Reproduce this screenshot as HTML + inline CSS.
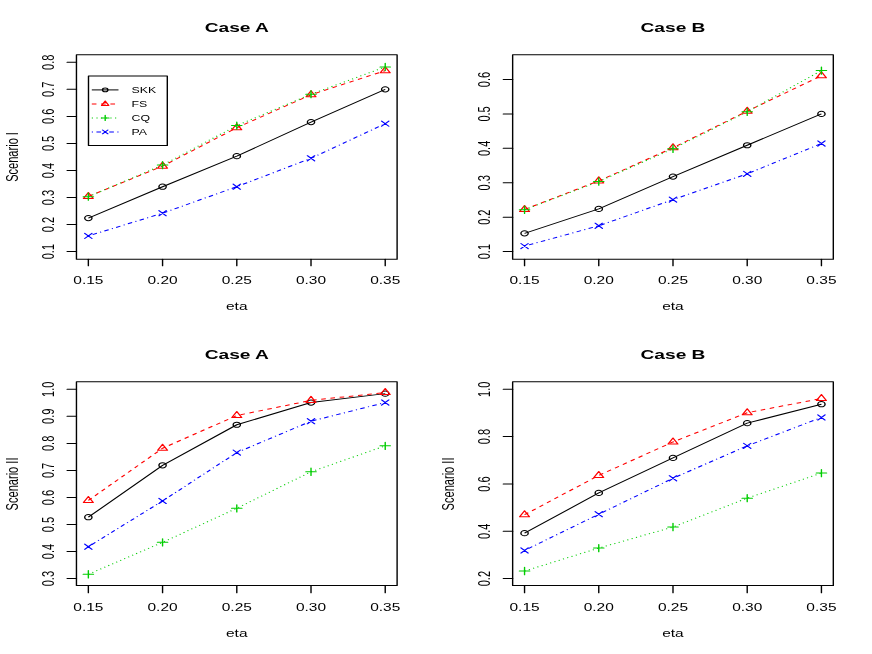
<!DOCTYPE html>
<html><head><meta charset="utf-8"><title>Chart</title>
<style>html,body{margin:0;padding:0;background:#fff;}body{width:872px;height:654px;overflow:hidden;font-family:"Liberation Sans",sans-serif;}svg{display:block;will-change:transform;opacity:0.999;}</style>
</head><body>
<svg width="872" height="654" viewBox="0 0 872 654">
<rect width="872" height="654" fill="#fff"/>
<g transform="scale(1.4,1)" font-family="Liberation Sans, sans-serif" fill="#000" stroke-linecap="round" stroke-linejoin="round">
<path d="M63.11 218.07L116.12 186.70L169.14 156.14L222.15 122.06L275.16 89.34" fill="none" stroke="#000000" stroke-width="1.0" stroke-linecap="butt"/>
<circle cx="63.11" cy="218.07" r="2.59" fill="none" stroke="#000000" stroke-width="1.0"/>
<circle cx="116.12" cy="186.70" r="2.59" fill="none" stroke="#000000" stroke-width="1.0"/>
<circle cx="169.14" cy="156.14" r="2.59" fill="none" stroke="#000000" stroke-width="1.0"/>
<circle cx="222.15" cy="122.06" r="2.59" fill="none" stroke="#000000" stroke-width="1.0"/>
<circle cx="275.16" cy="89.34" r="2.59" fill="none" stroke="#000000" stroke-width="1.0"/>
<path d="M63.11 196.43L116.12 166.14L169.14 127.74L222.15 94.75L275.16 70.68" fill="none" stroke="#ff0000" stroke-width="1.0" stroke-dasharray="3.32 3.32" stroke-linecap="butt"/>
<path d="M63.11 192.41L66.59 198.44L59.62 198.44Z" fill="none" stroke="#ff0000" stroke-width="1.0"/>
<path d="M116.12 162.12L119.61 168.16L112.64 168.16Z" fill="none" stroke="#ff0000" stroke-width="1.0"/>
<path d="M169.14 123.72L172.62 129.76L165.65 129.76Z" fill="none" stroke="#ff0000" stroke-width="1.0"/>
<path d="M222.15 90.73L225.63 96.76L218.67 96.76Z" fill="none" stroke="#ff0000" stroke-width="1.0"/>
<path d="M275.16 66.66L278.65 72.70L271.68 72.70Z" fill="none" stroke="#ff0000" stroke-width="1.0"/>
<path d="M63.11 196.70L116.12 165.06L169.14 125.58L222.15 94.21L275.16 66.90" fill="none" stroke="#00cd00" stroke-width="1.0" stroke-dasharray="0.83 2.49" stroke-linecap="butt"/>
<path d="M59.45 196.70H66.77M63.11 193.04V200.36" fill="none" stroke="#00cd00" stroke-width="1.0"/>
<path d="M112.46 165.06H119.78M116.12 161.40V168.72" fill="none" stroke="#00cd00" stroke-width="1.0"/>
<path d="M165.48 125.58H172.79M169.14 121.92V129.24" fill="none" stroke="#00cd00" stroke-width="1.0"/>
<path d="M218.49 94.21H225.81M222.15 90.55V97.87" fill="none" stroke="#00cd00" stroke-width="1.0"/>
<path d="M271.51 66.90H278.82M275.16 63.24V70.56" fill="none" stroke="#00cd00" stroke-width="1.0"/>
<path d="M63.11 235.92L116.12 213.20L169.14 186.70L222.15 158.30L275.16 123.69" fill="none" stroke="#0000ff" stroke-width="1.0" stroke-dasharray="0.83 2.49 3.32 2.49" stroke-linecap="butt"/>
<path d="M60.52 233.33L65.69 238.50M60.52 238.50L65.69 233.33" fill="none" stroke="#0000ff" stroke-width="1.0"/>
<path d="M113.53 210.61L118.71 215.79M113.53 215.79L118.71 210.61" fill="none" stroke="#0000ff" stroke-width="1.0"/>
<path d="M166.55 184.11L171.72 189.28M166.55 189.28L171.72 184.11" fill="none" stroke="#0000ff" stroke-width="1.0"/>
<path d="M219.56 155.71L224.74 160.89M219.56 160.89L224.74 155.71" fill="none" stroke="#0000ff" stroke-width="1.0"/>
<path d="M272.58 121.10L277.75 126.27M272.58 126.27L277.75 121.10" fill="none" stroke="#0000ff" stroke-width="1.0"/>
<rect x="54.61" y="54.70" width="229.04" height="204.50" fill="none" stroke="#000" stroke-width="1.0"/>
<path d="M63.11 259.20V265.84" stroke="#000" stroke-width="1.0"/>
<text x="63.11" y="283.60" font-size="11.07" text-anchor="middle">0.15</text>
<path d="M116.12 259.20V265.84" stroke="#000" stroke-width="1.0"/>
<text x="116.12" y="283.60" font-size="11.07" text-anchor="middle">0.20</text>
<path d="M169.14 259.20V265.84" stroke="#000" stroke-width="1.0"/>
<text x="169.14" y="283.60" font-size="11.07" text-anchor="middle">0.25</text>
<path d="M222.15 259.20V265.84" stroke="#000" stroke-width="1.0"/>
<text x="222.15" y="283.60" font-size="11.07" text-anchor="middle">0.30</text>
<path d="M275.16 259.20V265.84" stroke="#000" stroke-width="1.0"/>
<text x="275.16" y="283.60" font-size="11.07" text-anchor="middle">0.35</text>
<path d="M54.61 251.60H47.97" stroke="#000" stroke-width="1.0"/>
<text transform="translate(38.68 251.60) rotate(-90) scale(1,1.04)" font-size="11.07" text-anchor="middle">0.1</text>
<path d="M54.61 224.56H47.97" stroke="#000" stroke-width="1.0"/>
<text transform="translate(38.68 224.56) rotate(-90) scale(1,1.04)" font-size="11.07" text-anchor="middle">0.2</text>
<path d="M54.61 197.51H47.97" stroke="#000" stroke-width="1.0"/>
<text transform="translate(38.68 197.51) rotate(-90) scale(1,1.04)" font-size="11.07" text-anchor="middle">0.3</text>
<path d="M54.61 170.47H47.97" stroke="#000" stroke-width="1.0"/>
<text transform="translate(38.68 170.47) rotate(-90) scale(1,1.04)" font-size="11.07" text-anchor="middle">0.4</text>
<path d="M54.61 143.43H47.97" stroke="#000" stroke-width="1.0"/>
<text transform="translate(38.68 143.43) rotate(-90) scale(1,1.04)" font-size="11.07" text-anchor="middle">0.5</text>
<path d="M54.61 116.39H47.97" stroke="#000" stroke-width="1.0"/>
<text transform="translate(38.68 116.39) rotate(-90) scale(1,1.04)" font-size="11.07" text-anchor="middle">0.6</text>
<path d="M54.61 89.34H47.97" stroke="#000" stroke-width="1.0"/>
<text transform="translate(38.68 89.34) rotate(-90) scale(1,1.04)" font-size="11.07" text-anchor="middle">0.7</text>
<path d="M54.61 62.30H47.97" stroke="#000" stroke-width="1.0"/>
<text transform="translate(38.68 62.30) rotate(-90) scale(1,1.04)" font-size="11.07" text-anchor="middle">0.8</text>
<text x="169.13" y="32.45" font-size="13.7" font-weight="bold" text-anchor="middle">Case A</text>
<text x="169.13" y="309.60" font-size="11.07" text-anchor="middle">eta</text>
<text transform="translate(12.79 156.95) rotate(-90) scale(1,1.04)" font-size="11.07" text-anchor="middle">Scenario I</text>
<rect x="63.21" y="76.00" width="56.29" height="69.50" fill="#fff" stroke="#000" stroke-width="1.0"/>
<path d="M65.57 89.90H84.64" fill="none" stroke="#000000" stroke-width="1.0" stroke-linecap="butt"/>
<circle cx="75.14" cy="89.90" r="1.91" fill="none" stroke="#000000" stroke-width="1.0"/>
<text x="93.93" y="93.00" font-size="8.8">SKK</text>
<path d="M65.57 103.90H84.64" fill="none" stroke="#ff0000" stroke-width="1.0" stroke-dasharray="3.32 3.32" stroke-linecap="butt"/>
<path d="M75.14 100.92L77.72 105.39L72.56 105.39Z" fill="none" stroke="#ff0000" stroke-width="1.0"/>
<text x="93.93" y="107.00" font-size="8.8">FS</text>
<path d="M65.57 117.90H84.64" fill="none" stroke="#00cd00" stroke-width="1.0" stroke-dasharray="0.83 2.49" stroke-linecap="butt"/>
<path d="M72.44 117.90H77.85M75.14 115.19V120.61" fill="none" stroke="#00cd00" stroke-width="1.0"/>
<text x="93.93" y="121.00" font-size="8.8">CQ</text>
<path d="M65.57 131.90H84.64" fill="none" stroke="#0000ff" stroke-width="1.0" stroke-dasharray="0.83 2.49 3.32 2.49" stroke-linecap="butt"/>
<path d="M73.23 129.99L77.06 133.81M73.23 133.81L77.06 129.99" fill="none" stroke="#0000ff" stroke-width="1.0"/>
<text x="93.93" y="135.00" font-size="8.8">PA</text>
<path d="M374.68 233.36L427.69 208.92L480.71 176.57L533.72 145.25L586.74 113.93" fill="none" stroke="#000000" stroke-width="1.0" stroke-linecap="butt"/>
<circle cx="374.68" cy="233.36" r="2.59" fill="none" stroke="#000000" stroke-width="1.0"/>
<circle cx="427.69" cy="208.92" r="2.59" fill="none" stroke="#000000" stroke-width="1.0"/>
<circle cx="480.71" cy="176.57" r="2.59" fill="none" stroke="#000000" stroke-width="1.0"/>
<circle cx="533.72" cy="145.25" r="2.59" fill="none" stroke="#000000" stroke-width="1.0"/>
<circle cx="586.74" cy="113.93" r="2.59" fill="none" stroke="#000000" stroke-width="1.0"/>
<path d="M374.68 209.44L427.69 180.87L480.71 147.79L533.72 111.17L586.74 75.72" fill="none" stroke="#ff0000" stroke-width="1.0" stroke-dasharray="3.32 3.32" stroke-linecap="butt"/>
<path d="M374.68 205.41L378.16 211.45L371.19 211.45Z" fill="none" stroke="#ff0000" stroke-width="1.0"/>
<path d="M427.69 176.85L431.18 182.88L424.21 182.88Z" fill="none" stroke="#ff0000" stroke-width="1.0"/>
<path d="M480.71 143.77L484.19 149.81L477.22 149.81Z" fill="none" stroke="#ff0000" stroke-width="1.0"/>
<path d="M533.72 107.15L537.21 113.19L530.24 113.19Z" fill="none" stroke="#ff0000" stroke-width="1.0"/>
<path d="M586.74 71.70L590.22 77.74L583.25 77.74Z" fill="none" stroke="#ff0000" stroke-width="1.0"/>
<path d="M374.68 209.75L427.69 181.52L480.71 148.76L533.72 111.79L586.74 70.56" fill="none" stroke="#00cd00" stroke-width="1.0" stroke-dasharray="0.83 2.49" stroke-linecap="butt"/>
<path d="M371.02 209.75H378.34M374.68 206.09V213.41" fill="none" stroke="#00cd00" stroke-width="1.0"/>
<path d="M424.03 181.52H431.35M427.69 177.87V185.18" fill="none" stroke="#00cd00" stroke-width="1.0"/>
<path d="M477.05 148.76H484.37M480.71 145.10V152.42" fill="none" stroke="#00cd00" stroke-width="1.0"/>
<path d="M530.06 111.79H537.38M533.72 108.13V115.45" fill="none" stroke="#00cd00" stroke-width="1.0"/>
<path d="M583.08 70.56H590.39M586.74 66.90V74.22" fill="none" stroke="#00cd00" stroke-width="1.0"/>
<path d="M374.68 246.09L427.69 225.79L480.71 199.63L533.72 173.81L586.74 143.53" fill="none" stroke="#0000ff" stroke-width="1.0" stroke-dasharray="0.83 2.49 3.32 2.49" stroke-linecap="butt"/>
<path d="M372.09 243.51L377.27 248.68M372.09 248.68L377.27 243.51" fill="none" stroke="#0000ff" stroke-width="1.0"/>
<path d="M425.11 223.20L430.28 228.37M425.11 228.37L430.28 223.20" fill="none" stroke="#0000ff" stroke-width="1.0"/>
<path d="M478.12 197.04L483.29 202.22M478.12 202.22L483.29 197.04" fill="none" stroke="#0000ff" stroke-width="1.0"/>
<path d="M531.13 171.23L536.31 176.40M531.13 176.40L536.31 171.23" fill="none" stroke="#0000ff" stroke-width="1.0"/>
<path d="M584.15 140.94L589.32 146.11M584.15 146.11L589.32 140.94" fill="none" stroke="#0000ff" stroke-width="1.0"/>
<rect x="366.18" y="54.70" width="229.04" height="204.50" fill="none" stroke="#000" stroke-width="1.0"/>
<path d="M374.68 259.20V265.84" stroke="#000" stroke-width="1.0"/>
<text x="374.68" y="283.60" font-size="11.07" text-anchor="middle">0.15</text>
<path d="M427.69 259.20V265.84" stroke="#000" stroke-width="1.0"/>
<text x="427.69" y="283.60" font-size="11.07" text-anchor="middle">0.20</text>
<path d="M480.71 259.20V265.84" stroke="#000" stroke-width="1.0"/>
<text x="480.71" y="283.60" font-size="11.07" text-anchor="middle">0.25</text>
<path d="M533.72 259.20V265.84" stroke="#000" stroke-width="1.0"/>
<text x="533.72" y="283.60" font-size="11.07" text-anchor="middle">0.30</text>
<path d="M586.74 259.20V265.84" stroke="#000" stroke-width="1.0"/>
<text x="586.74" y="283.60" font-size="11.07" text-anchor="middle">0.35</text>
<path d="M366.18 251.60H359.54" stroke="#000" stroke-width="1.0"/>
<text transform="translate(350.25 251.60) rotate(-90) scale(1,1.04)" font-size="11.07" text-anchor="middle">0.1</text>
<path d="M366.18 217.18H359.54" stroke="#000" stroke-width="1.0"/>
<text transform="translate(350.25 217.18) rotate(-90) scale(1,1.04)" font-size="11.07" text-anchor="middle">0.2</text>
<path d="M366.18 182.76H359.54" stroke="#000" stroke-width="1.0"/>
<text transform="translate(350.25 182.76) rotate(-90) scale(1,1.04)" font-size="11.07" text-anchor="middle">0.3</text>
<path d="M366.18 148.35H359.54" stroke="#000" stroke-width="1.0"/>
<text transform="translate(350.25 148.35) rotate(-90) scale(1,1.04)" font-size="11.07" text-anchor="middle">0.4</text>
<path d="M366.18 113.93H359.54" stroke="#000" stroke-width="1.0"/>
<text transform="translate(350.25 113.93) rotate(-90) scale(1,1.04)" font-size="11.07" text-anchor="middle">0.5</text>
<path d="M366.18 79.51H359.54" stroke="#000" stroke-width="1.0"/>
<text transform="translate(350.25 79.51) rotate(-90) scale(1,1.04)" font-size="11.07" text-anchor="middle">0.6</text>
<text x="480.70" y="32.45" font-size="13.7" font-weight="bold" text-anchor="middle">Case B</text>
<text x="480.70" y="309.60" font-size="11.07" text-anchor="middle">eta</text>
<path d="M63.11 517.21L116.12 465.29L169.14 424.73L222.15 402.55L275.16 393.63" fill="none" stroke="#000000" stroke-width="1.0" stroke-linecap="butt"/>
<circle cx="63.11" cy="517.21" r="2.59" fill="none" stroke="#000000" stroke-width="1.0"/>
<circle cx="116.12" cy="465.29" r="2.59" fill="none" stroke="#000000" stroke-width="1.0"/>
<circle cx="169.14" cy="424.73" r="2.59" fill="none" stroke="#000000" stroke-width="1.0"/>
<circle cx="222.15" cy="402.55" r="2.59" fill="none" stroke="#000000" stroke-width="1.0"/>
<circle cx="275.16" cy="393.63" r="2.59" fill="none" stroke="#000000" stroke-width="1.0"/>
<path d="M63.11 500.45L116.12 448.25L169.14 415.53L222.15 400.39L275.16 392.55" fill="none" stroke="#ff0000" stroke-width="1.0" stroke-dasharray="3.32 3.32" stroke-linecap="butt"/>
<path d="M63.11 496.42L66.59 502.46L59.62 502.46Z" fill="none" stroke="#ff0000" stroke-width="1.0"/>
<path d="M116.12 444.23L119.61 450.27L112.64 450.27Z" fill="none" stroke="#ff0000" stroke-width="1.0"/>
<path d="M169.14 411.51L172.62 417.54L165.65 417.54Z" fill="none" stroke="#ff0000" stroke-width="1.0"/>
<path d="M222.15 396.36L225.63 402.40L218.67 402.40Z" fill="none" stroke="#ff0000" stroke-width="1.0"/>
<path d="M275.16 388.52L278.65 394.56L271.68 394.56Z" fill="none" stroke="#ff0000" stroke-width="1.0"/>
<path d="M63.11 574.27L116.12 542.36L169.14 508.29L222.15 471.78L275.16 445.82" fill="none" stroke="#00cd00" stroke-width="1.0" stroke-dasharray="0.83 2.49" stroke-linecap="butt"/>
<path d="M59.45 574.27H66.77M63.11 570.61V577.93" fill="none" stroke="#00cd00" stroke-width="1.0"/>
<path d="M112.46 542.36H119.78M116.12 538.70V546.02" fill="none" stroke="#00cd00" stroke-width="1.0"/>
<path d="M165.48 508.29H172.79M169.14 504.63V511.95" fill="none" stroke="#00cd00" stroke-width="1.0"/>
<path d="M218.49 471.78H225.81M222.15 468.12V475.44" fill="none" stroke="#00cd00" stroke-width="1.0"/>
<path d="M271.51 445.82H278.82M275.16 442.16V449.48" fill="none" stroke="#00cd00" stroke-width="1.0"/>
<path d="M63.11 546.69L116.12 500.99L169.14 452.58L222.15 421.21L275.16 402.55" fill="none" stroke="#0000ff" stroke-width="1.0" stroke-dasharray="0.83 2.49 3.32 2.49" stroke-linecap="butt"/>
<path d="M60.52 544.10L65.69 549.28M60.52 549.28L65.69 544.10" fill="none" stroke="#0000ff" stroke-width="1.0"/>
<path d="M113.53 498.40L118.71 503.57M113.53 503.57L118.71 498.40" fill="none" stroke="#0000ff" stroke-width="1.0"/>
<path d="M166.55 449.99L171.72 455.17M166.55 455.17L171.72 449.99" fill="none" stroke="#0000ff" stroke-width="1.0"/>
<path d="M219.56 418.62L224.74 423.80M219.56 423.80L224.74 418.62" fill="none" stroke="#0000ff" stroke-width="1.0"/>
<path d="M272.58 399.96L277.75 405.14M272.58 405.14L277.75 399.96" fill="none" stroke="#0000ff" stroke-width="1.0"/>
<rect x="54.61" y="381.70" width="229.04" height="203.80" fill="none" stroke="#000" stroke-width="1.0"/>
<path d="M63.11 585.50V592.84" stroke="#000" stroke-width="1.0"/>
<text x="63.11" y="610.60" font-size="11.07" text-anchor="middle">0.15</text>
<path d="M116.12 585.50V592.84" stroke="#000" stroke-width="1.0"/>
<text x="116.12" y="610.60" font-size="11.07" text-anchor="middle">0.20</text>
<path d="M169.14 585.50V592.84" stroke="#000" stroke-width="1.0"/>
<text x="169.14" y="610.60" font-size="11.07" text-anchor="middle">0.25</text>
<path d="M222.15 585.50V592.84" stroke="#000" stroke-width="1.0"/>
<text x="222.15" y="610.60" font-size="11.07" text-anchor="middle">0.30</text>
<path d="M275.16 585.50V592.84" stroke="#000" stroke-width="1.0"/>
<text x="275.16" y="610.60" font-size="11.07" text-anchor="middle">0.35</text>
<path d="M54.61 578.60H47.97" stroke="#000" stroke-width="1.0"/>
<text transform="translate(38.68 578.60) rotate(-90) scale(1,1.04)" font-size="11.07" text-anchor="middle">0.3</text>
<path d="M54.61 551.56H47.97" stroke="#000" stroke-width="1.0"/>
<text transform="translate(38.68 551.56) rotate(-90) scale(1,1.04)" font-size="11.07" text-anchor="middle">0.4</text>
<path d="M54.61 524.51H47.97" stroke="#000" stroke-width="1.0"/>
<text transform="translate(38.68 524.51) rotate(-90) scale(1,1.04)" font-size="11.07" text-anchor="middle">0.5</text>
<path d="M54.61 497.47H47.97" stroke="#000" stroke-width="1.0"/>
<text transform="translate(38.68 497.47) rotate(-90) scale(1,1.04)" font-size="11.07" text-anchor="middle">0.6</text>
<path d="M54.61 470.43H47.97" stroke="#000" stroke-width="1.0"/>
<text transform="translate(38.68 470.43) rotate(-90) scale(1,1.04)" font-size="11.07" text-anchor="middle">0.7</text>
<path d="M54.61 443.39H47.97" stroke="#000" stroke-width="1.0"/>
<text transform="translate(38.68 443.39) rotate(-90) scale(1,1.04)" font-size="11.07" text-anchor="middle">0.8</text>
<path d="M54.61 416.34H47.97" stroke="#000" stroke-width="1.0"/>
<text transform="translate(38.68 416.34) rotate(-90) scale(1,1.04)" font-size="11.07" text-anchor="middle">0.9</text>
<path d="M54.61 389.30H47.97" stroke="#000" stroke-width="1.0"/>
<text transform="translate(38.68 389.30) rotate(-90) scale(1,1.04)" font-size="11.07" text-anchor="middle">1.0</text>
<text x="169.13" y="359.45" font-size="13.7" font-weight="bold" text-anchor="middle">Case A</text>
<text x="169.13" y="636.60" font-size="11.07" text-anchor="middle">eta</text>
<text transform="translate(12.79 483.95) rotate(-90) scale(1,1.04)" font-size="11.07" text-anchor="middle">Scenario II</text>
<path d="M374.68 533.17L427.69 492.94L480.71 457.92L533.72 423.14L586.74 404.21" fill="none" stroke="#000000" stroke-width="1.0" stroke-linecap="butt"/>
<circle cx="374.68" cy="533.17" r="2.59" fill="none" stroke="#000000" stroke-width="1.0"/>
<circle cx="427.69" cy="492.94" r="2.59" fill="none" stroke="#000000" stroke-width="1.0"/>
<circle cx="480.71" cy="457.92" r="2.59" fill="none" stroke="#000000" stroke-width="1.0"/>
<circle cx="533.72" cy="423.14" r="2.59" fill="none" stroke="#000000" stroke-width="1.0"/>
<circle cx="586.74" cy="404.21" r="2.59" fill="none" stroke="#000000" stroke-width="1.0"/>
<path d="M374.68 514.71L427.69 475.43L480.71 441.95L533.72 412.73L586.74 398.53" fill="none" stroke="#ff0000" stroke-width="1.0" stroke-dasharray="3.32 3.32" stroke-linecap="butt"/>
<path d="M374.68 510.69L378.16 516.72L371.19 516.72Z" fill="none" stroke="#ff0000" stroke-width="1.0"/>
<path d="M427.69 471.41L431.18 477.44L424.21 477.44Z" fill="none" stroke="#ff0000" stroke-width="1.0"/>
<path d="M480.71 437.93L484.19 443.96L477.22 443.96Z" fill="none" stroke="#ff0000" stroke-width="1.0"/>
<path d="M533.72 408.70L537.21 414.74L530.24 414.74Z" fill="none" stroke="#ff0000" stroke-width="1.0"/>
<path d="M586.74 394.50L590.22 400.54L583.25 400.54Z" fill="none" stroke="#ff0000" stroke-width="1.0"/>
<path d="M374.68 571.03L427.69 548.08L480.71 527.02L533.72 498.15L586.74 473.07" fill="none" stroke="#00cd00" stroke-width="1.0" stroke-dasharray="0.83 2.49" stroke-linecap="butt"/>
<path d="M371.02 571.03H378.34M374.68 567.37V574.69" fill="none" stroke="#00cd00" stroke-width="1.0"/>
<path d="M424.03 548.08H431.35M427.69 544.42V551.73" fill="none" stroke="#00cd00" stroke-width="1.0"/>
<path d="M477.05 527.02H484.37M480.71 523.36V530.67" fill="none" stroke="#00cd00" stroke-width="1.0"/>
<path d="M530.06 498.15H537.38M533.72 494.49V501.81" fill="none" stroke="#00cd00" stroke-width="1.0"/>
<path d="M583.08 473.07H590.39M586.74 469.41V476.72" fill="none" stroke="#00cd00" stroke-width="1.0"/>
<path d="M374.68 550.44L427.69 514.24L480.71 478.27L533.72 445.85L586.74 417.46" fill="none" stroke="#0000ff" stroke-width="1.0" stroke-dasharray="0.83 2.49 3.32 2.49" stroke-linecap="butt"/>
<path d="M372.09 547.85L377.27 553.03M372.09 553.03L377.27 547.85" fill="none" stroke="#0000ff" stroke-width="1.0"/>
<path d="M425.11 511.65L430.28 516.83M425.11 516.83L430.28 511.65" fill="none" stroke="#0000ff" stroke-width="1.0"/>
<path d="M478.12 475.68L483.29 480.86M478.12 480.86L483.29 475.68" fill="none" stroke="#0000ff" stroke-width="1.0"/>
<path d="M531.13 443.27L536.31 448.44M531.13 448.44L536.31 443.27" fill="none" stroke="#0000ff" stroke-width="1.0"/>
<path d="M584.15 414.87L589.32 420.05M584.15 420.05L589.32 414.87" fill="none" stroke="#0000ff" stroke-width="1.0"/>
<rect x="366.18" y="381.70" width="229.04" height="203.80" fill="none" stroke="#000" stroke-width="1.0"/>
<path d="M374.68 585.50V592.84" stroke="#000" stroke-width="1.0"/>
<text x="374.68" y="610.60" font-size="11.07" text-anchor="middle">0.15</text>
<path d="M427.69 585.50V592.84" stroke="#000" stroke-width="1.0"/>
<text x="427.69" y="610.60" font-size="11.07" text-anchor="middle">0.20</text>
<path d="M480.71 585.50V592.84" stroke="#000" stroke-width="1.0"/>
<text x="480.71" y="610.60" font-size="11.07" text-anchor="middle">0.25</text>
<path d="M533.72 585.50V592.84" stroke="#000" stroke-width="1.0"/>
<text x="533.72" y="610.60" font-size="11.07" text-anchor="middle">0.30</text>
<path d="M586.74 585.50V592.84" stroke="#000" stroke-width="1.0"/>
<text x="586.74" y="610.60" font-size="11.07" text-anchor="middle">0.35</text>
<path d="M366.18 578.60H359.54" stroke="#000" stroke-width="1.0"/>
<text transform="translate(350.25 578.60) rotate(-90) scale(1,1.04)" font-size="11.07" text-anchor="middle">0.2</text>
<path d="M366.18 531.27H359.54" stroke="#000" stroke-width="1.0"/>
<text transform="translate(350.25 531.27) rotate(-90) scale(1,1.04)" font-size="11.07" text-anchor="middle">0.4</text>
<path d="M366.18 483.95H359.54" stroke="#000" stroke-width="1.0"/>
<text transform="translate(350.25 483.95) rotate(-90) scale(1,1.04)" font-size="11.07" text-anchor="middle">0.6</text>
<path d="M366.18 436.62H359.54" stroke="#000" stroke-width="1.0"/>
<text transform="translate(350.25 436.62) rotate(-90) scale(1,1.04)" font-size="11.07" text-anchor="middle">0.8</text>
<path d="M366.18 389.30H359.54" stroke="#000" stroke-width="1.0"/>
<text transform="translate(350.25 389.30) rotate(-90) scale(1,1.04)" font-size="11.07" text-anchor="middle">1.0</text>
<text x="480.70" y="359.45" font-size="13.7" font-weight="bold" text-anchor="middle">Case B</text>
<text x="480.70" y="636.60" font-size="11.07" text-anchor="middle">eta</text>
<text transform="translate(324.36 483.95) rotate(-90) scale(1,1.04)" font-size="11.07" text-anchor="middle">Scenario II</text>
</g></svg>
</body></html>
